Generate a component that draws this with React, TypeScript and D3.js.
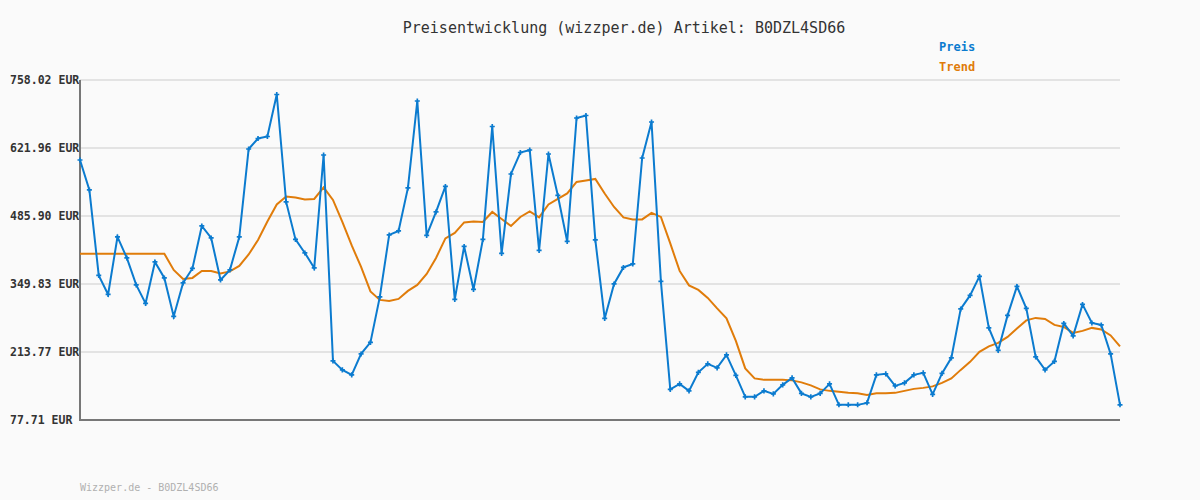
import React from "react";
import * as d3 from "d3";

const priceValues: number[] = [
  598, 538, 367, 329, 444, 402, 348, 311, 394, 362,
  285, 352, 381, 466, 442, 358, 378, 444, 620, 641,
  645, 729, 514, 439, 412, 382, 608, 196, 178, 168,
  210, 233, 324, 448, 456, 542, 716, 447, 494, 545,
  319, 425, 339, 439, 665, 411, 570, 613, 618, 417,
  610, 527, 435, 682, 687, 438, 281, 350, 383, 390,
  602, 674, 355, 139, 150, 136, 173, 190, 182, 208,
  167, 124, 124, 136, 130, 148, 162, 131, 124, 131,
  150, 108, 108, 108, 112, 168, 170, 146, 152, 168,
  172, 129, 171, 202, 300, 327, 365, 262, 217, 287,
  345, 301, 204, 178, 195, 271, 246, 309, 272, 268,
  210, 108,
];

const trendValues: number[] = [
  410.5, 410.5, 410.5, 410.5, 410.5, 410.5, 410.5, 410.5, 410.5, 410.5,
  378, 360, 362, 376, 376, 371, 375, 386, 409, 438,
  475, 509, 525, 523, 519, 520, 543, 518, 474, 427,
  384, 335, 318, 316, 320, 336, 348, 370, 402, 441,
  452, 473, 475, 474, 494, 480, 466, 484, 495, 483,
  509, 520, 531, 554, 557, 560, 531, 504, 483, 479,
  479, 492, 484, 431, 376, 347, 338, 322, 301, 281,
  236, 181, 161, 158, 158, 158, 157, 153, 147, 139,
  136, 134, 132, 131, 128, 131, 131, 132, 136, 140,
  142, 145, 152, 161, 178, 194, 214, 225, 232, 244,
  261, 277, 282, 280, 268, 264, 252, 256, 262, 259,
  247, 225,
];

const yTickValues: number[] = [77.71, 213.77, 349.83, 485.9, 621.96, 758.02];
const yTickLabels: string[] = ["77.71 EUR", "213.77 EUR", "349.83 EUR", "485.90 EUR", "621.96 EUR", "758.02 EUR"];

const titleText = "Preisentwicklung (wizzper.de) Artikel: B0DZL4SD66";
const footerText = "Wizzper.de - B0DZL4SD66";
const legendLabels: string[] = ["Preis", "Trend"];

const W = 1200;
const H = 500;
const left = 80;
const right = 1120;
const top = 80;
const bottom = 420;

const BLUE = "#0b7bcf";
const ORANGE = "#e07c0a";
const MONO = "'DejaVu Sans Mono', 'Liberation Mono', monospace";

export default function App() {
  const x = d3.scaleLinear().domain([0, priceValues.length - 1]).range([left, right]);
  const y = d3.scaleLinear().domain([77.71, 758.02]).range([bottom, top]);

  const line = d3
    .line<number>()
    .x((_, i) => x(i))
    .y((d) => y(d));

  const cross = d3.symbol().type(d3.symbolCross).size(14)();

  return (
    <svg
      width={W}
      height={H}
      style={{ position: "absolute", left: 0, top: 0, display: "block" }}
    >
      <rect x={0} y={0} width={W} height={H} fill="#fafafa" />
      <text
        x={624}
        y={33}
        textAnchor="middle"
        fontFamily={MONO}
        fontSize={15}
        fill="#333"
      >
        {titleText}
      </text>
      {legendLabels.map((l, i) => (
        <text
          key={l}
          x={939}
          y={51 + i * 20}
          fontFamily={MONO}
          fontSize={12}
          fontWeight="bold"
          fill={i === 0 ? BLUE : ORANGE}
        >
          {l}
        </text>
      ))}
      {yTickValues.map((v, i) => (
        <g key={v}>
          <line
            x1={left}
            x2={right}
            y1={y(v)}
            y2={y(v)}
            stroke="#e3e3e3"
            strokeWidth={2}
          />
          <text
            x={10}
            y={y(v) + 4}
            fontFamily={MONO}
            fontSize={11.5}
            fontWeight="bold"
            fill="#333"
          >
            {yTickLabels[i]}
          </text>
        </g>
      ))}
      <path
        d={`M${left},${top}V${bottom}H${right}`}
        fill="none"
        stroke="#777"
        strokeWidth={2}
      />
      <path d={line(trendValues) || ""} fill="none" stroke={ORANGE} strokeWidth={2} />
      <path d={line(priceValues) || ""} fill="none" stroke={BLUE} strokeWidth={2} />
      {priceValues.map((v, i) => (
        <path
          key={i}
          d={cross || ""}
          transform={`translate(${x(i)},${y(v)})`}
          fill={BLUE}
        />
      ))}
      <text x={80} y={491} fontFamily={MONO} fontSize={10} fill="#b0b0b0">
        {footerText}
      </text>
    </svg>
  );
}
